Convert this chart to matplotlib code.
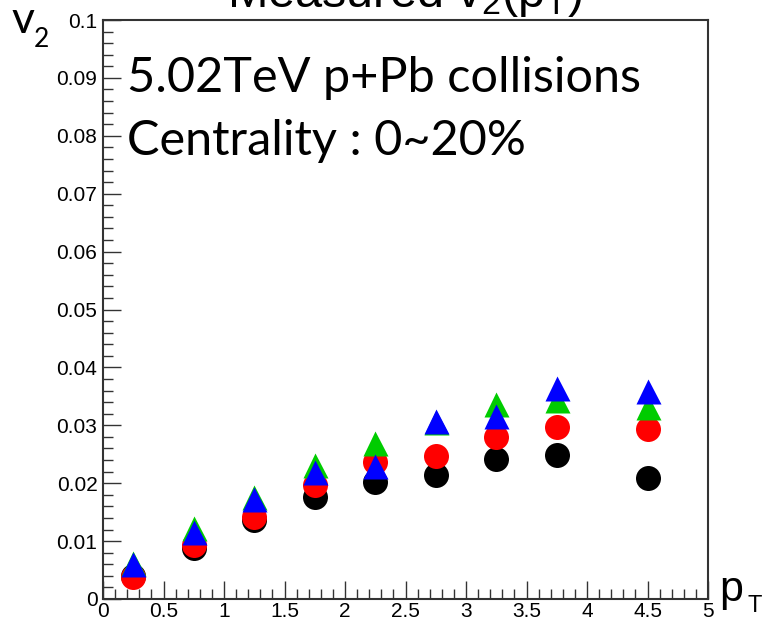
import numpy as np
import matplotlib
matplotlib.use("Agg")
import matplotlib.pyplot as plt
from matplotlib.ticker import MultipleLocator, FixedLocator, FixedFormatter

# pT bin centres
pt = [0.25, 0.75, 1.25, 1.75, 2.25, 2.75, 3.25, 3.75, 4.5]

# v2 values, one list per series
v2_black = [0.0040, 0.0088, 0.0136, 0.0177, 0.0202, 0.0214, 0.0242, 0.0249, 0.0209]
v2_red = [0.0038, 0.0093, 0.0142, 0.0197, 0.0237, 0.0247, 0.0280, 0.0297, 0.0294]
v2_green = [0.0062, 0.0122, 0.0176, 0.0231, 0.0270, 0.0305, 0.0337, 0.0344, 0.0332]
v2_blue = [0.0060, 0.0116, 0.0173, 0.0219, 0.0230, 0.0307, 0.0316, 0.0364, 0.0360]

xticks = [0, 0.5, 1, 1.5, 2, 2.5, 3, 3.5, 4, 4.5, 5]
xticklabels = ["0", "0.5", "1", "1.5", "2", "2.5", "3", "3.5", "4", "4.5", "5"]
yticks = [0, 0.01, 0.02, 0.03, 0.04, 0.05, 0.06, 0.07, 0.08, 0.09, 0.1]
yticklabels = ["0", "0.01", "0.02", "0.03", "0.04", "0.05", "0.06", "0.07", "0.08", "0.09", "0.1"]

plt.rcParams["mathtext.default"] = "regular"

W, H = 763, 624
fig = plt.figure(figsize=(W / 100, H / 100), dpi=100)
ax = fig.add_axes([103 / W, 1 - 599 / H, 605 / W, 579 / H])

ms = 18
ax.plot(pt, v2_black, "o", color="black", ms=ms, mec="none")
ax.plot(pt, v2_red, "o", color="#ff0000", ms=ms, mec="none")
ax.plot(pt, v2_green, "^", color="#00cc00", ms=ms, mec="none")
ax.plot(pt, v2_blue, "^", color="#0000ff", ms=ms, mec="none")

ax.set_xlim(0, 5)
ax.set_ylim(0, 0.1)
ax.xaxis.set_major_locator(FixedLocator(xticks))
ax.xaxis.set_major_formatter(FixedFormatter(xticklabels))
ax.yaxis.set_major_locator(FixedLocator(yticks))
ax.yaxis.set_major_formatter(FixedFormatter(yticklabels))
ax.xaxis.set_minor_locator(MultipleLocator(0.1))
ax.yaxis.set_minor_locator(MultipleLocator(0.002))

ax.tick_params(which="both", direction="in", top=False, right=False,
               color="#333333", width=1.0)
ax.tick_params(which="major", length=13, labelsize=15)
ax.tick_params(axis="y", which="major", pad=4)
ax.tick_params(axis="x", which="major", pad=2)
ax.tick_params(which="minor", length=7)
for lab in ax.get_xticklabels() + ax.get_yticklabels():
    lab.set_fontfamily("Liberation Sans")
for s in ax.spines.values():
    s.set_color("#333333")
    s.set_linewidth(1.5)

# labels in the ROOT style
fig.text(127 / W, 1 - 92 / H, "5.02TeV p+Pb collisions", fontsize=35, family="Lato",
         va="baseline", ha="left")
fig.text(127 / W, 1 - 155 / H, "Centrality : 0~20%", fontsize=35, family="Lato",
         va="baseline", ha="left")

fig.text(11 / W, 1 - 33 / H, "v", fontsize=32, family="Lato", va="baseline")
fig.text(34 / W, 1 - 47 / H, "2", fontsize=19, family="Lato", va="baseline")

fig.text(719 / W, 1 - 601 / H, "p", fontsize=31, family="Liberation Sans", va="baseline")
fig.text(748 / W, 1 - 612 / H, "T", fontsize=17, family="Liberation Sans", va="baseline")

fig.text(405 / W, 1 - 7 / H, r"Measured v$_{2}$(p$_{T}$)", fontsize=35,
         family="Liberation Sans", va="baseline", ha="center")

fig.savefig("out.png", dpi=100)
